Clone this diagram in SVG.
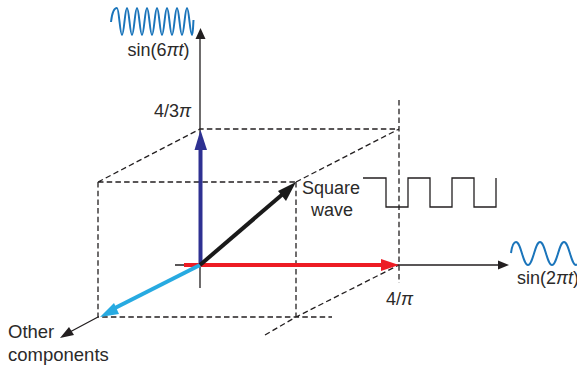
<svg xmlns="http://www.w3.org/2000/svg" width="577" height="367" viewBox="0 0 577 367">
<defs>
<style>
text{font-family:"Liberation Sans",Arial,sans-serif;font-size:18px;fill:#2b2a29}
.big{font-size:18.500px}
.i{font-style:italic}
.ax{fill:none;stroke:#231f20;stroke-width:1.3}
.d{fill:none;stroke:#231f20;stroke-width:1.3;stroke-dasharray:5.5 3.2}
.w{fill:none;stroke:#1b75bb;stroke-width:2}
</style>
</defs>
<g id="connectors">
<path class="d" d="M98 182H296M98 182V317H332M98 182L200 129H399M296 182V317M296 182L399 129M399 100V283M265 335L296 317L399 265"/>
<path class="ax" d="M200 265V38M175 265H500M200 265V288M98 317L68 333"/>
<path fill="#231f20" d="M200.500 28L205.500 39H195.500ZM509 265L498 260.500V269.500ZM60 338L74 335L69 327Z"/>
<path fill="none" stroke="#2e3192" stroke-width="4" d="M200.500 265V145"/>
<path fill="#2e3192" d="M200.500 130L207 150H194.500Z"/>
<path fill="none" stroke="#ed1c24" stroke-width="4" d="M184 265H385"/>
<path fill="#ed1c24" d="M399 265L381 259V271Z"/>
<path fill="none" stroke="#27aae1" stroke-width="4" d="M200 265L115 308"/>
<path fill="#27aae1" d="M100 317L119 314L114 303Z"/>
<path fill="none" stroke="#1a1a1a" stroke-width="4" d="M200 265L284 193"/>
<path fill="#1a1a1a" d="M296 182L278 191L286 201Z"/>
</g>
<g id="wave-top"><path class="w" d="M111 22C112 13 114 8 117 8C119 8 120 35 122 35C124 35 125 8 127 8C129 8 130 35 132 35C134 35 135 8 137 8C139 8 140 35 142 35C144 35 145 8 147 8C149 8 150 35 152 35C154 35 155 8 157 8C159 8 160 35 162 35C164 35 165 8 167 8C169 8 170 35 172 35C174 35 175 8 177 8C179 8 180 35 182 35C184 35 185 8 187 8C189 8 190 35 192 35C193 35 193 27 193.500 20"/></g>
<g id="label-sin6"><text x="127.500" y="55.500">sin(6<tspan class="i">πt</tspan>)</text></g>
<g id="label-43pi"><text x="154" y="116.500">4/3<tspan class="i">π</tspan></text></g>
<g id="label-square"><text x="302" y="194">Square</text><text x="311" y="216">wave</text></g>
<g id="square-wave"><path class="ax" d="M363 178H386V207H408V178H430V207H452V178H474V207H496V178"/></g>
<g id="wave-right"><path class="w" d="M511 253C512 246 514 242 516 242C521 242 523 265 528 265C533 265 535 242 540 242C545 242 547 265 552 265C557 265 559 242 564 242C569 242 571 265 576 265L577 264.500"/></g>
<g id="label-sin2"><text x="517" y="283.500">sin(2<tspan class="i">πt</tspan>)</text></g>
<g id="label-4pi"><text x="386" y="304.500">4/<tspan class="i">π</tspan></text></g>
<g id="label-other"><text class="big" x="8" y="337.500">Other</text><text class="big" x="8" y="360.500">components</text></g>
</svg>
